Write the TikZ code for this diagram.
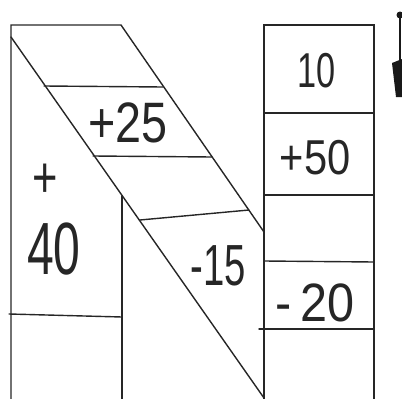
\documentclass[tikz,border=0pt]{standalone}
\usepackage{fontspec}
\usepackage{graphicx}
\newfontfamily\handfont{Liberation Sans}
\newcommand\handtxt[3]{\scalebox{#2}[1]{\fontsize{#1}{#1}\selectfont\handfont #3}}
\begin{document}
\begin{tikzpicture}[x=1pt,y=-1pt,
  pen/.style={line width=1.4pt,draw=black!85,line cap=round},
  lbl/.style={inner sep=0pt,text=black!85}]
\useasboundingbox (0,0) rectangle (402,399);
% key points
\coordinate (LT) at (11,25);
\coordinate (LB) at (11,399);
\coordinate (OT) at (121,25);
\coordinate (OE) at (264,232);
\coordinate (IT) at (11,37);
\coordinate (IE) at (264,398);
% left column
\draw[pen] (LB) -- (LT) -- (OT) -- (OE);
\draw[pen] (IT) -- (IE);
\draw[pen] (122,196) -- (122,399);
\draw[pen] (9,314) -- (122,317);
% band lines
\draw[pen] (44,86) -- (163,87);
\draw[pen] (93,156) -- (212,157);
\draw[pen] (140,220) -- (249,210);
% right column
\draw[pen] (264,399) -- (264,25) -- (374,25) -- (374,399);
\draw[pen] (264,113) -- (374,113);
\draw[pen] (264,195) -- (374,195);
\draw[pen] (264,261) -- (374,262);
\draw[pen] (259,329) -- (374,329);
% marker at top right
\fill[black!90] (400,15) circle (3.5);
\draw[line width=2.5pt,black!90] (400,15) -- (400,62);
\fill[black!90] (392,63) -- (402,59) -- (402,97) -- (396,97) -- cycle;
% labels
\node[lbl] (tplus) at (45,181) {\handtxt{58}{0.75}{+}};
\node[lbl] (t40) at (54,249) {\handtxt{74}{0.65}{40}};
\node[lbl] (t25) at (128,123) {\handtxt{57}{0.82}{+25}};
\node[lbl] (t15) at (218,266) {\handtxt{58}{0.66}{-15}};
\node[lbl] (t10) at (317,71) {\handtxt{49}{0.7}{10}};
\node[lbl] (t50) at (315,158) {\handtxt{49}{0.85}{+50}};
\node[lbl] (t20) at (315,303) {\handtxt{54}{0.9}{-\,20}};
\end{tikzpicture}
\end{document}
